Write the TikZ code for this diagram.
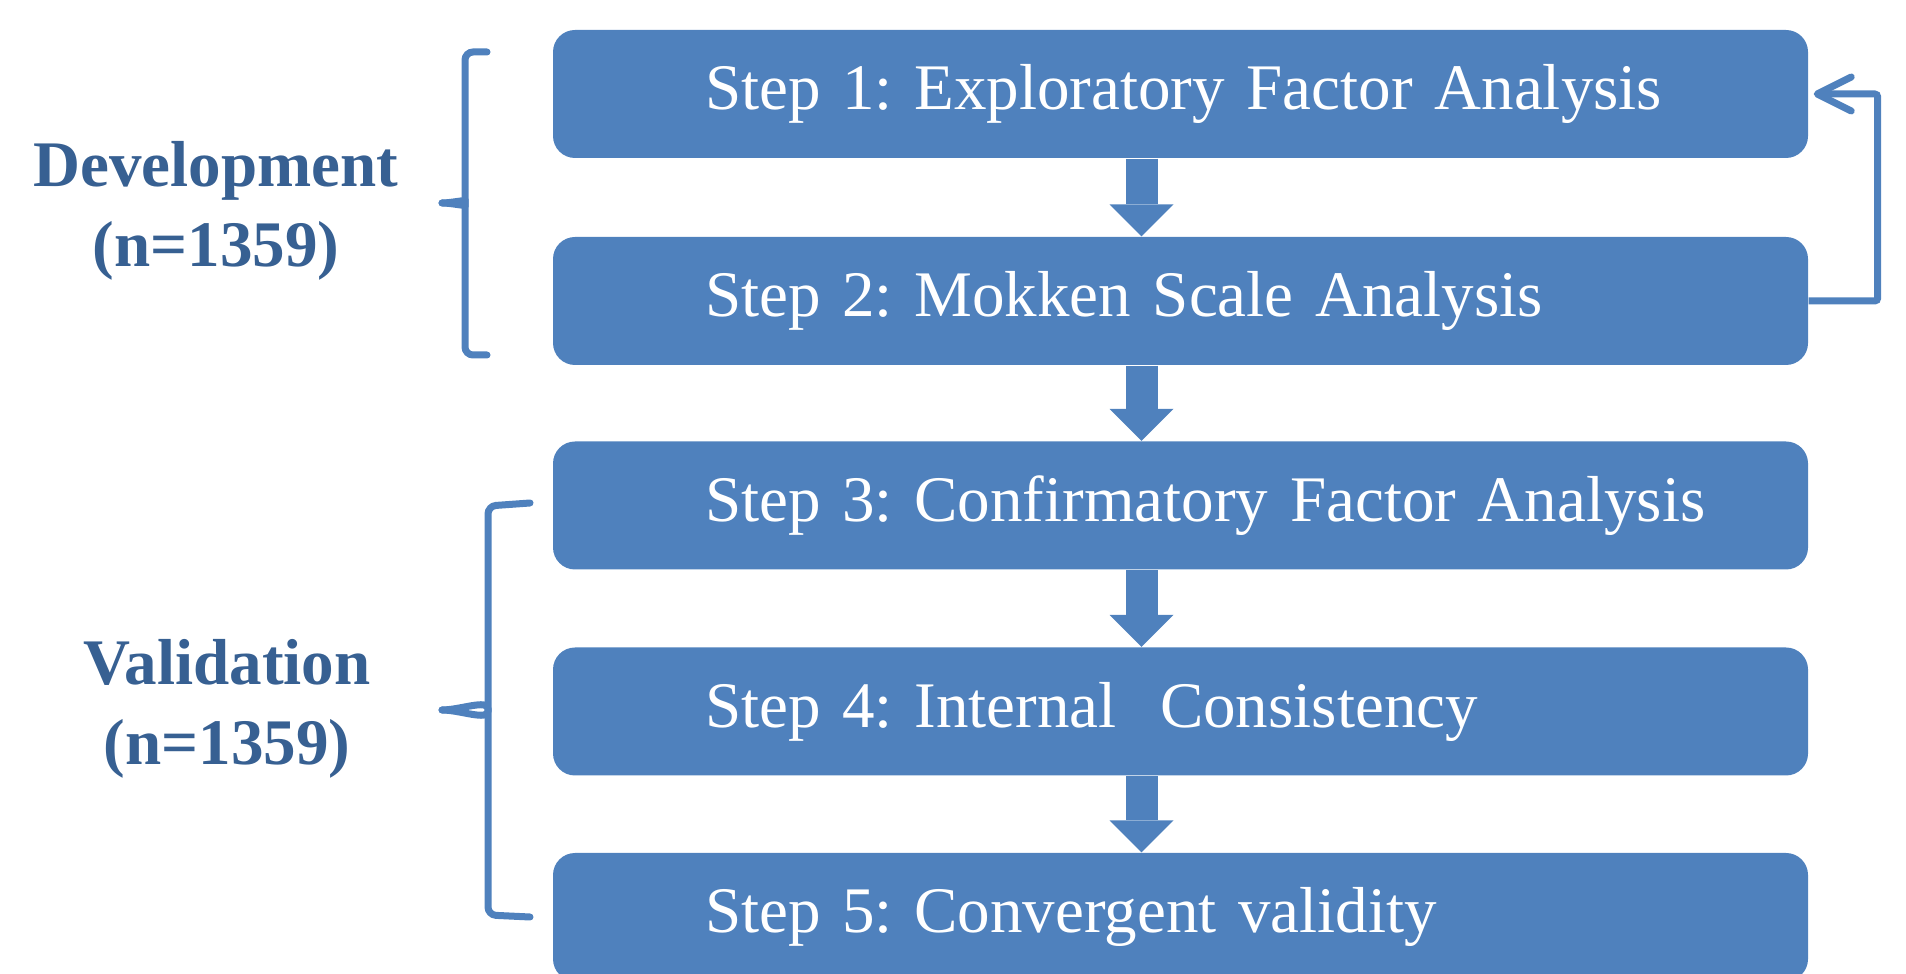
\documentclass[tikz,border=0pt]{standalone}
\usepackage{fontspec}
\setmainfont{Liberation Serif}
\usepackage{tikz}
\usetikzlibrary{positioning,calc,arrows.meta}
\definecolor{boxblue}{RGB}{79,129,189}
\definecolor{labelblue}{RGB}{55,96,146}
\frenchspacing

\begin{document}
\begin{tikzpicture}[
    stepbox/.style={rectangle, rounded corners=0.22cm, fill=boxblue, text=white,
        minimum width=12.55cm, minimum height=1.28cm, text width=12.55cm,
        inner xsep=0pt, inner ysep=0pt, align=left,
        font=\fontsize{18.5}{22}\selectfont},
    flowarrow/.style={draw=boxblue, line width=0.32cm,
        -{Triangle[length=0.32cm, width=0.64cm, line width=0pt]}},
    loopback/.style={draw=boxblue, line width=0.07cm, rounded corners=0.03cm,
        -{Straight Barb[length=0.34cm, width=0.34cm, round]}},
    bracket/.style={draw=boxblue, line width=0.07cm, line cap=round, rounded corners=0.08cm},
    grouplabel/.style={text=labelblue, align=center,
        font=\fontsize{18.5}{22.6}\selectfont\bfseries}
]
\useasboundingbox (0,0) rectangle (19.06,-9.74);

% Step boxes
\node[stepbox] (s1) at (11.805,-0.94) {\hspace*{1.52cm}Step 1: Exploratory Factor Analysis};
\node[stepbox] (s2) at (11.805,-3.01) {\hspace*{1.52cm}Step 2: Mokken Scale Analysis};
\node[stepbox] (s3) at (11.805,-5.055) {\hspace*{1.52cm}Step 3: Confirmatory Factor Analysis};
\node[stepbox] (s4) at (11.805,-7.115) {\hspace*{1.52cm}Step 4: Internal~ Consistency};
\node[stepbox] (s5) at (11.805,-9.17) {\hspace*{1.52cm}Step 5: Convergent validity};

% Block arrows between the steps
\foreach \a/\b in {s1/s2, s2/s3, s3/s4, s4/s5} {
    \draw[flowarrow] ($(\a.south)+(-0.39,0)$) -- ($(\b.north)+(-0.39,0)$);
}

% Feedback from step 2 to step 1
\draw[loopback] (s2.east) -- ++(0.69,0) |- ($(s1.east)+(0.05,0)$);

% Group labels
\node[grouplabel] (dev) at (2.16,-2.11) {Development\\(n=1359)};
\node[grouplabel] (val) at (2.27,-7.09) {Validation\\(n=1359)};

% Brackets
\draw[bracket] (4.87,-0.52) -- (4.65,-0.52) -- (4.65,-1.97) to[out=-90,in=0] (4.42,-2.03);
\draw[bracket] (4.87,-3.55) -- (4.65,-3.55) -- (4.65,-2.09) to[out=90,in=0] (4.42,-2.03);
\draw[bracket] (5.30,-5.03) -- (4.88,-5.06) -- (4.88,-7.03) to[out=-90,in=0] (4.42,-7.10);
\draw[bracket] (5.30,-9.17) -- (4.88,-9.15) -- (4.88,-7.17) to[out=90,in=0] (4.42,-7.10);

\end{tikzpicture}
\end{document}
